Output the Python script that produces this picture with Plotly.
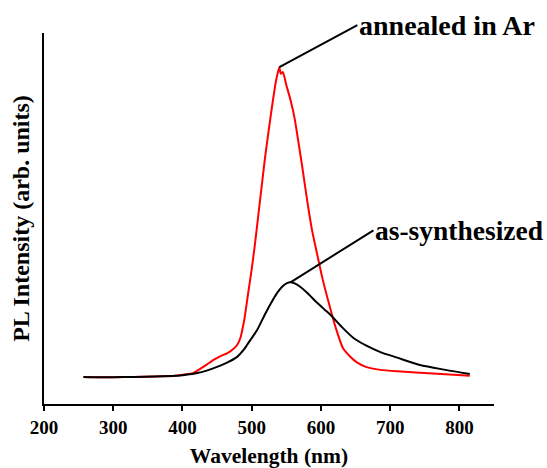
import plotly.graph_objects as go

# Wavelength (nm) and PL intensity (arb. units)
wl_red = [257, 280, 300, 330, 360, 390, 405, 416, 425, 435, 445, 455, 465, 472, 479, 484, 487, 490,
          495, 499, 504, 509, 514, 519, 524, 530, 535, 538, 540, 542, 545, 550, 556, 562, 568, 573,
          580, 587, 595, 602, 611, 621, 632, 642, 652, 665, 686, 710, 743, 780, 815]
int_red = [7.3, 7.2, 7.2, 7.3, 7.4, 7.6, 8.0, 8.4, 9.4, 10.6, 11.9, 12.9, 13.7, 14.6, 15.9, 18.0, 20.5, 23.5,
           30.0, 35.0, 42.0, 50.0, 58.0, 66.0, 73.0, 81.0, 87.0, 89.5, 90.8, 89.0, 89.5, 86.0, 82.0, 77.0, 70.0, 64.0,
           55.0, 47.0, 40.0, 34.0, 27.5, 20.8, 15.0, 12.8, 11.2, 10.0, 9.2, 8.8, 8.4, 8.0, 7.6]

wl_black = [257, 280, 300, 330, 360, 390, 405, 420, 435, 450, 465, 479, 488, 495, 502, 508, 515, 521, 528,
            537, 545, 551, 556, 562, 570, 580, 595, 605, 614, 630, 647, 665, 686, 710, 743, 780, 815]
int_black = [7.3, 7.2, 7.2, 7.3, 7.4, 7.6, 7.9, 8.3, 9.0, 10.0, 11.2, 12.7, 14.5, 16.4, 18.3, 20.0, 22.6, 24.8, 27.2,
             30.0, 31.8, 32.6, 32.8, 32.5, 31.6, 30.0, 27.2, 25.5, 24.0, 20.8, 17.8, 15.8, 14.0, 12.5, 10.5, 9.2, 8.1]

x_ticks = [200, 300, 400, 500, 600, 700, 800]
label_red = "annealed in Ar"
label_black = "as-synthesized"

FONT = "Liberation Serif"

fig = go.Figure()
fig.add_trace(go.Scatter(x=wl_red, y=int_red, mode="lines",
                         line=dict(color="#ff0000", width=2, shape="spline", smoothing=0.5),
                         showlegend=False))
fig.add_trace(go.Scatter(x=wl_black, y=int_black, mode="lines",
                         line=dict(color="#000000", width=2, shape="spline", smoothing=0.7),
                         showlegend=False))

fig.add_annotation(x=540, y=90.8, text="<b>%s</b>" % label_red, showarrow=True,
                   arrowhead=0, arrowwidth=2, arrowcolor="black",
                   ax=78, ay=-42, xanchor="left", yanchor="middle",
                   font=dict(family=FONT, size=28, color="black"))
fig.add_annotation(x=556, y=32.8, text="<b>%s</b>" % label_black, showarrow=True,
                   arrowhead=0, arrowwidth=2, arrowcolor="black",
                   ax=83, ay=-52, xanchor="left", yanchor="middle",
                   font=dict(family=FONT, size=27.5, color="black"))

fig.update_layout(
    width=547, height=468,
    margin=dict(l=44, r=53, t=33, b=64),
    paper_bgcolor="white", plot_bgcolor="white",
    font=dict(family=FONT, color="black"),
    xaxis=dict(range=[200, 850], tickvals=x_ticks, ticktext=["<b>%d</b>" % v for v in x_ticks],
               showgrid=False, zeroline=False, showline=True, linecolor="black", linewidth=1.5,
               ticks="outside", ticklen=5, tickwidth=1.5, tickcolor="black", automargin=False,
               tickfont=dict(family=FONT, size=19, color="black"),
               title=dict(text="<b>Wavelength (nm)</b>", font=dict(family=FONT, size=21.5), standoff=13)),
    yaxis=dict(range=[0, 100], showgrid=False, zeroline=False, showline=True, linecolor="black",
               linewidth=1.5, showticklabels=False, ticks="", automargin=False,
               title=dict(text="<b>PL Intensity (arb. units)</b>", font=dict(family=FONT, size=24), standoff=6)),
)

fig.write_html("out.html", config={"displayModeBar": False},
               post_script="document.body.style.margin='0';document.body.style.overflow='hidden';")
